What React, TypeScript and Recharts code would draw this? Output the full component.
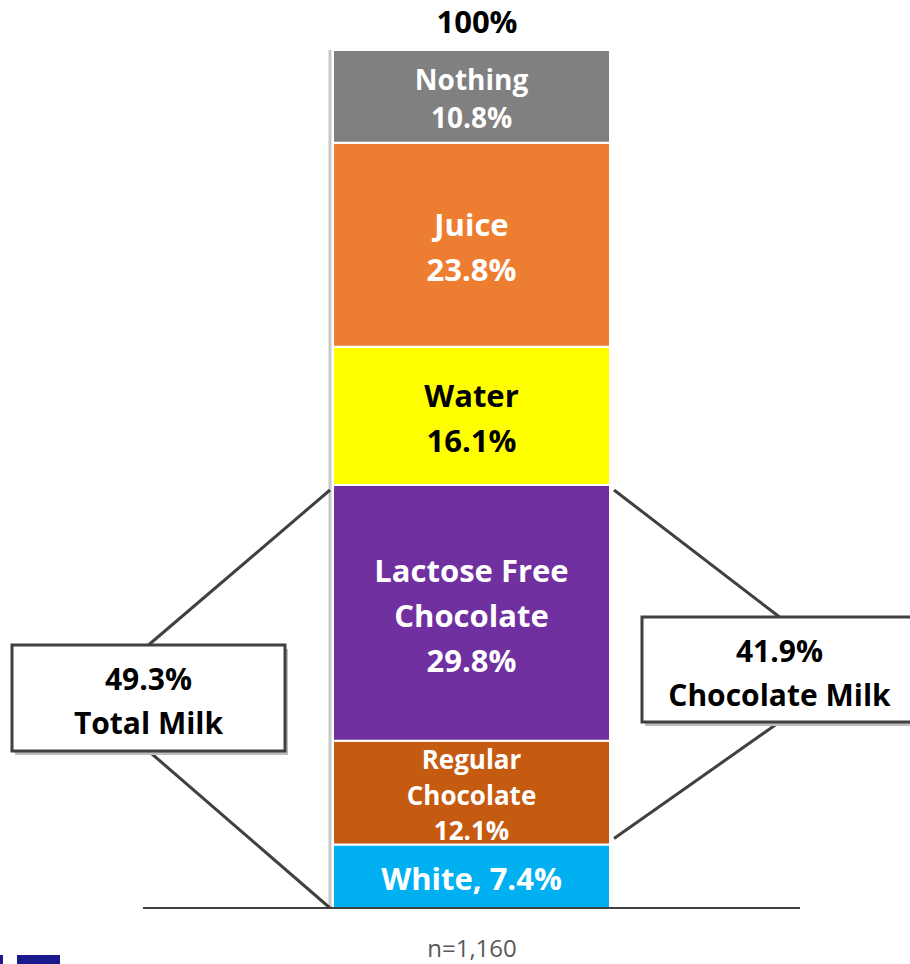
import React from "react";
import { BarChart, Bar, XAxis, YAxis, LabelList } from "recharts";

const categories = ["White", "Regular Chocolate", "Lactose Free Chocolate", "Water", "Juice", "Nothing"];
const shares = [7.4, 12.1, 29.8, 16.1, 23.8, 10.8];
const colors = ["#00B0F0", "#C55A11", "#7030A0", "#FFFF00", "#ED7D31", "#808080"];
const textColors = ["#fff", "#fff", "#fff", "#000", "#fff", "#fff"];
const labelLines = [
  ["White, 7.4%"],
  ["Regular", "Chocolate", "12.1%"],
  ["Lactose Free", "Chocolate", "29.8%"],
  ["Water", "16.1%"],
  ["Juice", "23.8%"],
  ["Nothing", "10.8%"],
];
const lineGaps = [0, 35.5, 45, 45, 45, 38];
const labelSizes = [31, 26, 31, 31, 31, 28];

// callouts: label lines, and the stack range they bracket
const totalMilk = { lines: ["49.3%", "Total Milk"], from: 0, to: 49.3 };
const chocMilk = { lines: ["41.9%", "Chocolate Milk"], from: 7.4, to: 49.3 };
const sampleNote = "n=1,160";
const topLabel = "100%";

const W = 910;
const H = 964;
const M = { top: 50, right: 300, bottom: 56, left: 333 };
const FONT = "'Open Sans', sans-serif";

const row: Record<string, number | string> = { name: "All" };
categories.forEach((c, i) => (row[c] = shares[i]));
const data = [row];

// same linear scale the chart uses for the y axis (domain 0..100)
const yPx = (v: number) => M.top + (1 - v / 100) * (H - M.top - M.bottom);
const barLeft = M.left;
const barRight = W - M.right;

function segLabel(i: number) {
  return (props: any) => {
    const { x, y, width, height } = props;
    const lines = labelLines[i];
    const gap = lineGaps[i];
    const cx = x + width / 2;
    const cy = y + height / 2 + 2;
    const start = cy - ((lines.length - 1) * gap) / 2;
    return (
      <g>
        {lines.map((t, k) => (
          <text
            key={k}
            x={cx}
            y={start + k * gap}
            textAnchor="middle"
            dominantBaseline="central"
            fill={textColors[i]}
            fontFamily={FONT}
            fontWeight={700}
            fontSize={labelSizes[i]}
          >
            {t}
          </text>
        ))}
      </g>
    );
  };
}

function Callout({ box, lines, anchorX, yTop, yBottom }: any) {
  const midX = box.x + box.w / 2;
  return (
    <g>
      <line x1={anchorX} y1={yTop} x2={midX} y2={box.y} stroke="#404040" strokeWidth={3} />
      <line x1={midX} y1={box.y + box.h} x2={anchorX} y2={yBottom} stroke="#404040" strokeWidth={3} />
      <rect x={box.x + 3} y={box.y + 4} width={box.w} height={box.h} fill="#bdbdbd" />
      <rect x={box.x} y={box.y} width={box.w} height={box.h} fill="#fff" stroke="#404040" strokeWidth={3} />
      {lines.map((t: string, k: number) => (
        <text
          key={k}
          x={midX}
          y={box.y + 33 + k * 44}
          textAnchor="middle"
          dominantBaseline="central"
          fill="#000"
          fontFamily={FONT}
          fontWeight={700}
          fontSize={30}
        >
          {t}
        </text>
      ))}
    </g>
  );
}

export default function App() {
  return (
    <div style={{ position: "absolute", left: 0, top: 0, width: W, height: H, background: "#fff" }}>
      <BarChart width={W} height={H} data={data} margin={M} barCategoryGap={0}>
        <XAxis dataKey="name" hide />
        <YAxis hide domain={[0, 100]} />
        {categories.map((c, i) => (
          <Bar
            key={c}
            dataKey={c}
            stackId="s"
            fill={colors[i]}
            stroke="#fff"
            strokeWidth={2}
            isAnimationActive={false}
          >
            <LabelList dataKey={c} content={segLabel(i)} />
          </Bar>
        ))}
      </BarChart>
      <svg width={W} height={H} style={{ position: "absolute", left: 0, top: 0, pointerEvents: "none" }}>
        <line x1={barLeft - 3} y1={yPx(100)} x2={barLeft - 3} y2={yPx(0)} stroke="#c8c8c8" strokeWidth={3} />
        <line x1={143} y1={yPx(0)} x2={800} y2={yPx(0)} stroke="#000" strokeWidth={1.5} />
        <text x={477} y={21} textAnchor="middle" dominantBaseline="central" fontFamily={FONT} fontWeight={700} fontSize={31} fill="#000">
          {topLabel}
        </text>
        <text x={472} y={947} textAnchor="middle" dominantBaseline="central" fontFamily={FONT} fontSize={24} fill="#595959">
          {sampleNote}
        </text>
        <Callout
          box={{ x: 12, y: 645, w: 273, h: 106 }}
          lines={totalMilk.lines}
          anchorX={barLeft - 3}
          yTop={yPx(totalMilk.to) + 5}
          yBottom={yPx(totalMilk.from)}
        />
        <Callout
          box={{ x: 642, y: 617, w: 275, h: 105 }}
          lines={chocMilk.lines}
          anchorX={barRight + 4}
          yTop={yPx(chocMilk.to) + 5}
          yBottom={yPx(chocMilk.from) - 6}
        />
        <rect x={0} y={955} width={3} height={9} fill="#1a1a8c" />
        <rect x={17} y={955} width={43} height={9} fill="#1a1a8c" />
      </svg>
    </div>
  );
}
